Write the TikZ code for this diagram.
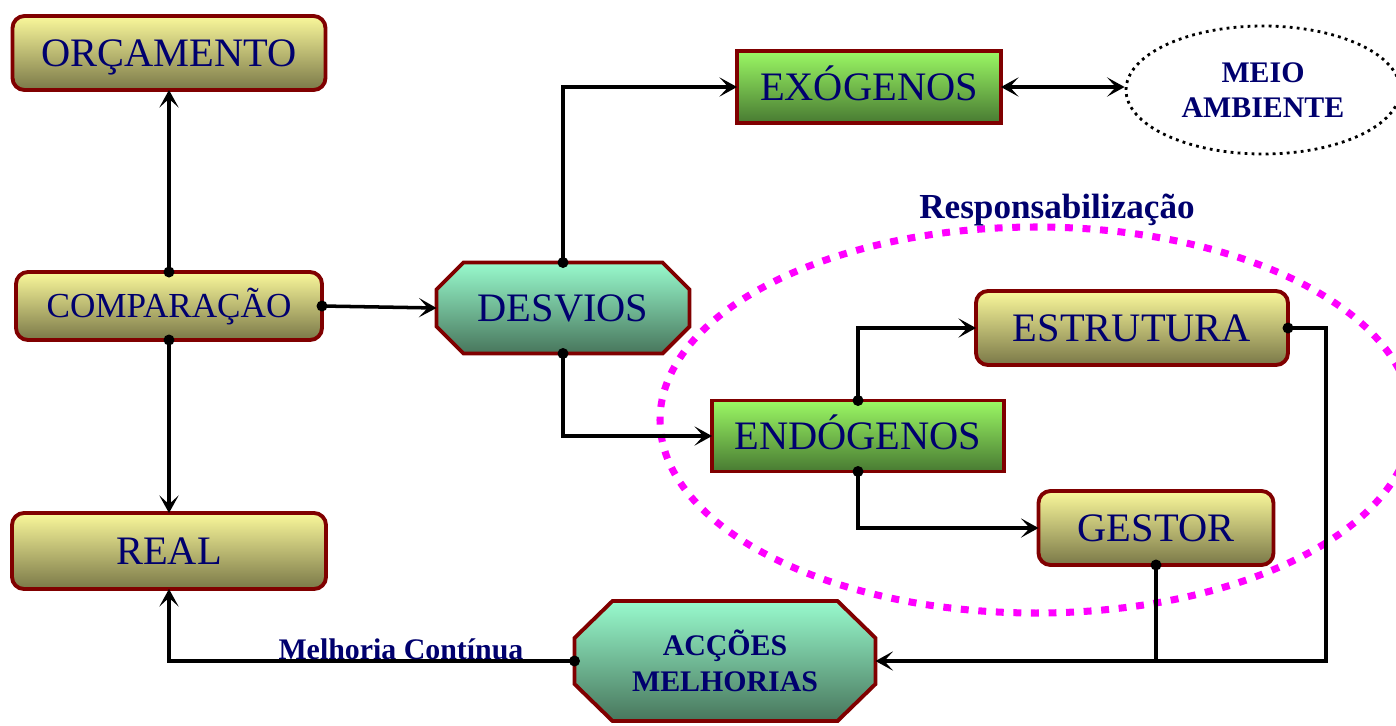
\documentclass[tikz,border=0pt]{standalone}
\usepackage{fontspec}
\setmainfont{Liberation Serif}
\usetikzlibrary{positioning,arrows.meta,calc,shapes.geometric}
\definecolor{boxborder}{RGB}{128,0,0}
\definecolor{boxtext}{RGB}{0,0,110}
\definecolor{yeltop}{RGB}{250,248,155}
\definecolor{yelbot}{RGB}{122,120,72}
\definecolor{greentop}{RGB}{155,248,100}
\definecolor{greenbot}{RGB}{72,122,50}
\definecolor{tealtop}{RGB}{152,250,205}
\definecolor{tealbot}{RGB}{72,118,92}
\definecolor{respcol}{RGB}{255,0,255}
\pgfdeclarelayer{background}
\pgfsetlayers{background,main}
\tikzset{
	flow/.style={x=0.2mm,y=-0.2mm,>={Stealth[length=10pt,width=11pt,inset=5pt]}},
	link/.style={line width=2pt},
	stage/.style={rectangle,rounded corners=2.4mm,draw=boxborder,line width=2.2pt,
		top color=yeltop,bottom color=yelbot,text=boxtext,outer sep=0pt,inner sep=0pt,
		font=\fontsize{23}{27}\selectfont,text height=15.2pt,text depth=0pt},
	cause/.style={rectangle,draw=boxborder,line width=2.2pt,
		top color=greentop,bottom color=greenbot,text=boxtext,outer sep=0pt,inner sep=0pt,
		font=\fontsize{23}{27}\selectfont,text height=15.2pt,text depth=0pt},
	octbox/.style={rectangle,text=boxtext,outer sep=0pt,inner sep=0pt},
	octfill/.style={draw=boxborder,line width=2.2pt,top color=tealtop,bottom color=tealbot},
	env/.style={ellipse,draw=black,line width=1.6pt,dash pattern=on 1.6pt off 2.4pt,
		text=boxtext,align=center,inner sep=0pt,
		font=\bfseries\fontsize{17}{20}\selectfont},
	respzone/.style={draw=respcol,line width=4pt,dash pattern=on 4.5pt off 5.5pt}
}

\begin{document}
\begin{tikzpicture}[flow]
	\useasboundingbox (0,0) rectangle (1396,725);
	
	% zona de responsabilizacao
	\draw[respzone] (1036,420) ellipse [x radius=75.2mm, y radius=38.6mm];
	\node[text=boxtext,font=\bfseries\fontsize{20}{24}\selectfont] (resp) at (1057,210) {Responsabilização};
	
	\node[stage,minimum width=62.6mm,minimum height=14.8mm] (orc) at (169,53) {ORÇAMENTO};
	\node[stage,minimum width=61.2mm,minimum height=13.6mm,
		font=\fontsize{20}{24}\selectfont,text height=13.2pt] (comp) at (169,306) {COMPARAÇÃO};
	\node[stage,minimum width=62.8mm,minimum height=15.2mm] (real) at (169,551) {REAL};
	\node[octbox,minimum width=50.6mm,minimum height=18.2mm,
		font=\fontsize{23}{27}\selectfont,text height=15.2pt,text depth=0pt] (desvios) at (563,308) {DESVIOS};
	\node[cause,minimum width=52.8mm,minimum height=14.4mm] (exo) at (869,87) {EXÓGENOS};
	\node[env,minimum width=54.8mm,minimum height=25.6mm] (meio) at (1263,90) {MEIO\\AMBIENTE};
	\node[cause,minimum width=58.4mm,minimum height=14.2mm] (endo) at (858,436) {ENDÓGENOS};
	\node[stage,minimum width=62.4mm,minimum height=14.8mm] (estr) at (1132,328) {ESTRUTURA};
	\node[stage,minimum width=47mm,minimum height=14.8mm] (gestor) at (1156,528) {GESTOR};
	\node[octbox,minimum width=60.2mm,minimum height=24mm,align=center,
		font=\bfseries\fontsize{17}{20.5}\selectfont] (accoes) at (725,661) {ACÇÕES\\MELHORIAS};
	\coordinate (estrturn) at (1326,328);
	
	% octogonos
	\begin{pgfonlayer}{background}
		\path[octfill] ($(desvios.north west)+(27,0)$) -- ($(desvios.north east)+(-27,0)$)
			-- ($(desvios.north east)+(0,27)$) -- ($(desvios.south east)+(0,-27)$)
			-- ($(desvios.south east)+(-27,0)$) -- ($(desvios.south west)+(27,0)$)
			-- ($(desvios.south west)+(0,-27)$) -- ($(desvios.north west)+(0,27)$) -- cycle;
		\path[octfill] ($(accoes.north west)+(38,0)$) -- ($(accoes.north east)+(-38,0)$)
			-- ($(accoes.north east)+(0,37)$) -- ($(accoes.south east)+(0,-37)$)
			-- ($(accoes.south east)+(-38,0)$) -- ($(accoes.south west)+(38,0)$)
			-- ($(accoes.south west)+(0,-37)$) -- ($(accoes.north west)+(0,37)$) -- cycle;
	\end{pgfonlayer}
	
	\draw[link,->] (comp.north) -- (orc.south);
	\draw[link,->] (comp.south) -- (real.north);
	\draw[link,->] (comp.east) -- (desvios.west);
	\draw[link,->] (desvios.north) |- (exo.west);
	\draw[link,<->] (exo.east) -- (exo.east -| meio.west);
	\draw[link,->] (desvios.south) |- (endo.west);
	\draw[link,->] (endo.north) |- (estr.west);
	\draw[link,->] (endo.south) |- (gestor.west);
	\draw[link,->] (estr.east) -- (estrturn) |- (accoes.east);
	\draw[link] (gestor.south) -- (gestor.south |- accoes.east);
	\draw[link,->] (accoes.west) -| node[pos=0.214,anchor=base,inner sep=0pt,yshift=1pt,
		text=boxtext,font=\bfseries\fontsize{17}{20}\selectfont] {Melhoria Contínua} (real.south);
	
	\foreach \p in {comp.north,comp.south,comp.east,desvios.north,desvios.south,
		endo.north,endo.south,estr.east,gestor.south,accoes.west}
		\fill (\p) circle (1.1mm);
\end{tikzpicture}
\end{document}
